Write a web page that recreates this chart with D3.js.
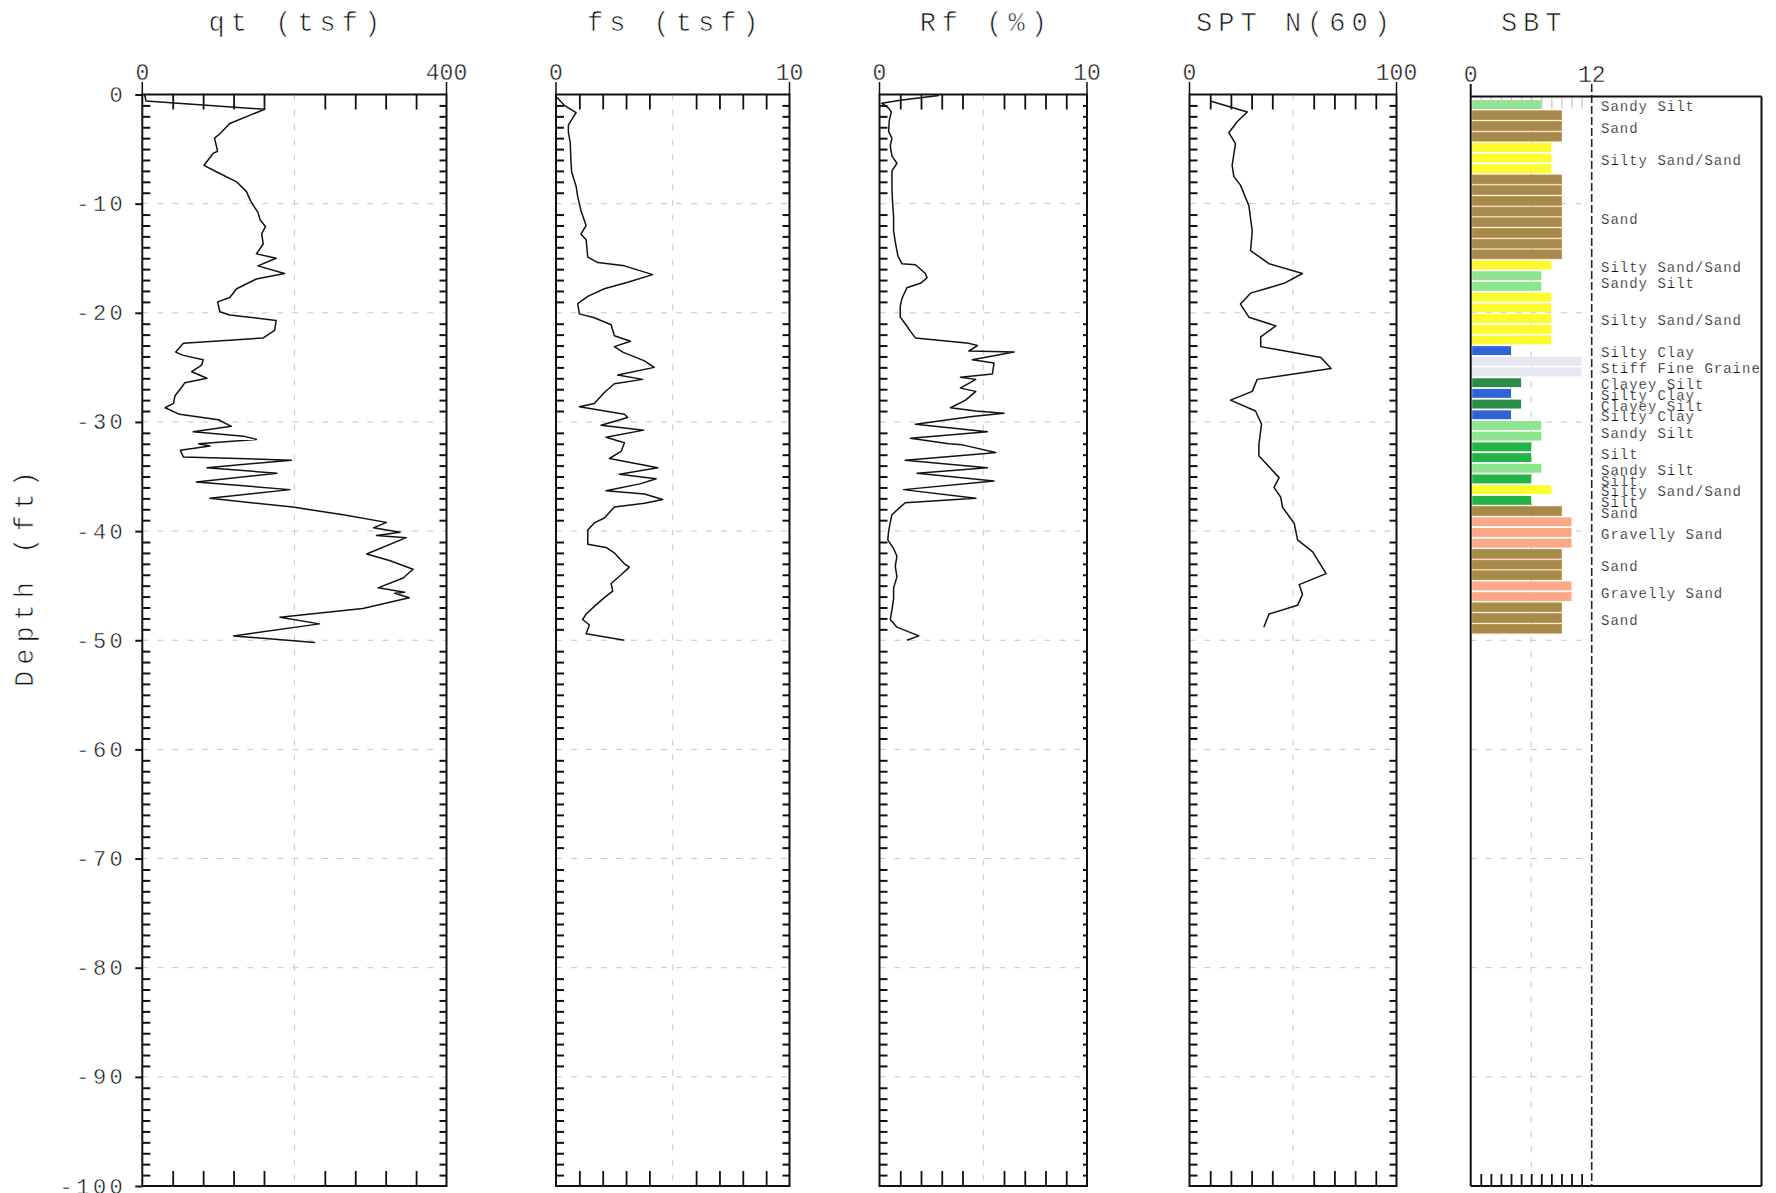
<!DOCTYPE html>
<html><head><meta charset="utf-8">
<script src="https://cdn.jsdelivr.net/npm/d3@7"></script>
<style>
html,body{margin:0;padding:0;background:#fff;}
svg{display:block;}
text{font-family:"Liberation Mono","DejaVu Sans Mono",monospace;fill:#111;stroke:#fff;stroke-width:0.45px;paint-order:normal;}
text.big{stroke-width:0.7px;}
</style></head><body>
<svg id="chart" width="1776" height="1193"></svg>
<script>
// ---------------- DATA ----------------
const depthTicks = [0,10,20,30,40,50,60,70,80,90,100];
const depthTickLabels = ["0","-10","-20","-30","-40","-50","-60","-70","-80","-90","-100"];
const depthAxisTitle = "Depth (ft)";

const qtTitle = "qt (tsf)";
const qtEndLabels = ["0","400"];
const qtTicks = [40,80,120,160,240,280,320,360];
const qtDepth = [0,0.6,1.35,2.66,3.6,4.0,4.6,5.2,5.4,6.5,7.1,8.0,8.9,9.7,10.15,10.8,11.5,12.1,12.75,13.7,14.6,15.0,15.7,16.4,16.9,17.8,18.6,19.0,19.9,20.2,20.7,21.6,22.3,22.8,23.6,23.9,24.3,24.8,25.4,26.0,26.4,26.8,27.6,28.3,28.7,29.3,29.8,30.4,30.9,31.3,31.6,32.0,32.2,32.6,33.2,33.5,34.2,34.7,35.5,36.2,37.0,37.8,38.5,39.2,39.7,40.1,40.4,40.6,42.1,42.7,43.5,44.3,45.2,45.6,45.7,46.1,47.1,47.9,48.5,49.6,50.2];
const qtValue = [3,5,161,115,102,95,97,99,93,81,98,124,137,142,146,152,155,162,157,159,150,176,152,187,150,124,115,99,102,115,176,174,159,54,44,54,80,78,65,85,56,52,43,41,30,49,100,117,67,133,150,74,89,50,54,196,85,177,71,194,89,198,264,321,304,339,308,347,295,325,356,343,310,345,332,351,290,181,233,120,227];

const fsTitle = "fs (tsf)";
const fsEndLabels = ["0","10"];
const fsTicks = [1,2,3,4,6,7,8,9];
const fsDepth = [0.26,1.0,1.67,2.16,2.8,3.46,4.4,6.1,7.1,8.4,9.35,10.65,12.0,12.8,13.3,14.9,15.4,15.7,16.5,17.2,17.8,18.5,19.15,20.1,20.45,21.1,22.1,22.6,23.1,23.6,24.4,25.0,25.7,26.1,26.5,27.3,28.3,28.6,29.3,29.6,30.3,30.75,31.4,31.9,32.7,33.35,34.2,34.8,35.2,35.65,36.3,36.6,37.1,37.45,37.8,38.8,39.25,39.9,41.2,41.5,42.0,43.0,43.3,44.0,44.8,45.5,46.1,46.9,47.6,48.1,48.6,49.4,50.0];
const fsValue = [0.04,0.36,0.86,0.71,0.53,0.53,0.61,0.64,0.67,0.86,0.93,1.07,1.29,1.07,1.29,1.36,1.79,2.93,4.14,3.07,2.07,1.36,0.93,1.0,1.64,2.36,2.5,3.19,2.5,2.86,3.79,4.21,2.64,3.71,2.5,2.07,1.64,1.0,2.93,3.07,1.93,3.76,2.14,2.93,2.79,2.29,4.36,2.71,4.29,3.64,2.14,3.79,4.57,3.79,2.5,2.07,1.64,1.36,1.36,2.14,2.5,2.93,3.14,2.79,2.36,2.43,2.07,1.64,1.29,1.14,1.43,1.29,2.93];

const rfTitle = "Rf (%)";
const rfEndLabels = ["0","10"];
const rfTicks = [1,2,3,4,6,7,8,9];
const rfDepth = [0.1,0.5,0.8,1.25,1.6,2.4,3.4,4.0,4.7,5.65,6.3,7.0,8.6,9.9,11.2,12.5,13.5,14.8,15.5,15.6,16.4,16.8,17.3,17.7,18.7,19.4,20.4,21.0,21.7,22.3,22.8,23.0,23.5,23.6,24.3,24.6,25.6,25.9,26.1,26.9,27.2,28.0,28.7,29.0,29.2,29.5,30.2,30.9,31.5,32.0,32.1,32.8,32.9,33.5,34.2,34.7,35.4,36.2,37.0,37.4,37.8,38.5,39.2,40.0,40.8,41.6,42.3,43.2,44.2,45.2,46.2,47.2,48.1,48.8,49.6,50.0];
const rfValue = [2.86,1.08,0.11,0.44,0.57,0.47,0.44,0.6,0.52,0.6,0.84,0.6,0.6,0.63,0.68,0.68,0.76,0.89,1.08,1.73,2.21,2.29,1.97,1.32,1.08,1.0,1.0,1.24,1.49,1.73,4.31,4.72,4.31,6.49,4.47,5.52,5.44,3.9,4.64,3.9,4.64,4.15,3.42,4.64,6.0,4.47,1.73,5.2,1.49,3.34,3.99,5.6,5.12,1.24,5.2,1.81,5.52,1.16,4.64,1.24,1.0,0.6,0.52,0.44,0.4,0.68,0.84,0.76,0.84,0.68,0.68,0.6,0.52,0.84,1.89,1.32];

const sptTitle = "SPT N(60)";
const sptEndLabels = ["0","100"];
const sptTicks = [10,20,30,40,60,70,80,90];
const sptDepth = [0.6,1.6,2.5,3.5,4.5,6.5,7.5,8.3,10.2,12.5,14.3,15.5,16.4,17.3,18.2,19.2,20.4,21.2,22.2,23.1,24.1,25.1,26.1,27.2,28.0,29.0,30.2,32.1,33.1,35.1,36.0,36.9,37.8,39.3,40.8,41.9,43.9,44.9,45.8,46.8,47.6,48.8];
const sptValue = [10,27.9,23,19,22.2,20.6,21.4,24.6,28.7,30.3,29.5,38.4,54.6,45.7,29.5,24.6,28.7,41.7,34.4,34.4,63.5,68.4,32.7,30.3,19.8,31.9,34.8,33.5,33.5,43.3,40.8,44.1,44.9,50.6,52.2,59.5,66,53,54.6,52.2,38.4,35.9];

const sbtTitle = "SBT";
const sbtEndLabels = ["0","12"];
const sbtTicks = [1,2,3,4,5,6,7,8,9,10,11];
// top depth (ft) of each 0.3 m SBT interval
const sbtTop = [0.46,1.44,2.42,3.40,4.38,5.36,6.34,7.32,8.30,9.28,10.26,11.24,12.22,13.20,14.18,15.16,16.14,17.12,18.10,19.08,20.06,21.04,22.02,23.00,23.98,24.96,25.94,26.92,27.90,28.88,29.86,30.84,31.82,32.80,33.78,34.76,35.74,36.72,37.70,38.68,39.66,40.64,41.62,42.60,43.58,44.56,45.54,46.52,47.50,48.48];
const sbtThickness = 0.98;
const sbtClass = ["Sandy Silt","Sand","Sand","Sand","Silty Sand/Sand","Silty Sand/Sand","Silty Sand/Sand",
 "Sand","Sand","Sand","Sand","Sand","Sand","Sand","Sand","Silty Sand/Sand","Sandy Silt","Sandy Silt",
 "Silty Sand/Sand","Silty Sand/Sand","Silty Sand/Sand","Silty Sand/Sand","Silty Sand/Sand","Silty Clay",
 "Stiff Fine Grained","Stiff Fine Grained","Clayey Silt","Silty Clay","Clayey Silt","Silty Clay",
 "Sandy Silt","Sandy Silt","Silt","Silt","Sandy Silt","Silt","Silty Sand/Sand","Silt","Sand",
 "Gravelly Sand","Gravelly Sand","Gravelly Sand","Sand","Sand","Sand","Gravelly Sand","Gravelly Sand",
 "Sand","Sand","Sand"];
const sbtZoneNames = ["Silty Clay","Clayey Silt","Silt","Sandy Silt","Silty Sand/Sand","Sand","Gravelly Sand","Stiff Fine Grained"];
const sbtZoneNumbers = [4,5,6,7,8,9,10,11];
const sbtZoneColors = ["#2f63d6","#2e8c4a","#22b447","#8de68d","#fbfb2e","#a48a4b","#fca886","#e7e7ef"];

// ---------------- LAYOUT ----------------
const svg = d3.select("#chart");
const TOP = 94.5, BOT = 1186;
const y = d3.scaleLinear().domain([0,100]).range([TOP,BOT]);
const minorDepths = d3.range(1,100).filter(d => d % 10 !== 0);
const gridDepths = depthTicks.slice(1,-1);
const GRID = "#c6c6c6";

const panels = [
  {title:qtTitle, ends:qtEndLabels, ticks:qtTicks, depth:qtDepth, value:qtValue, x0:142.3, x1:446.5, domain:[0,400], rTick:7, labels:true},
  {title:fsTitle, ends:fsEndLabels, ticks:fsTicks, depth:fsDepth, value:fsValue, x0:556, x1:789.5, domain:[0,10], rTick:7},
  {title:rfTitle, ends:rfEndLabels, ticks:rfTicks, depth:rfDepth, value:rfValue, x0:879.5, x1:1087, domain:[0,10], rTick:4},
  {title:sptTitle, ends:sptEndLabels, ticks:sptTicks, depth:sptDepth, value:sptValue, x0:1189.5, x1:1396.5, domain:[0,100], rTick:7}
];

function styleAxis(sel, color, w){
  sel.select(".domain").remove();
  sel.selectAll(".tick line").attr("stroke", color).attr("stroke-width", w);
  sel.selectAll(".tick text").remove();
}

panels.forEach(p => {
  const g = svg.append("g");
  const x = d3.scaleLinear().domain(p.domain).range([p.x0, p.x1]);
  const mid = (p.domain[0] + p.domain[1]) / 2;

  // grid
  g.selectAll(".hg").data(gridDepths).join("line")
    .attr("x1", p.x0).attr("x2", p.x1).attr("y1", d => y(d)).attr("y2", d => y(d))
    .attr("stroke", GRID).attr("stroke-width", 1).attr("stroke-dasharray", "6,9");
  g.append("line").attr("x1", x(mid)).attr("x2", x(mid)).attr("y1", TOP).attr("y2", BOT)
    .attr("stroke", GRID).attr("stroke-width", 1).attr("stroke-dasharray", "6,9");

  // inner depth ticks left and right
  g.append("g").attr("transform", `translate(${p.x0},0)`)
    .call(d3.axisRight(y).tickValues(minorDepths).tickSize(8).tickSizeOuter(0))
    .call(s => styleAxis(s, "#111", 2));
  g.append("g").attr("transform", `translate(${p.x1},0)`)
    .call(d3.axisLeft(y).tickValues(minorDepths).tickSize(p.rTick).tickSizeOuter(0))
    .call(s => styleAxis(s, "#111", 2));

  // top and bottom value ticks
  g.append("g").attr("transform", `translate(0,${TOP})`)
    .call(d3.axisBottom(x).tickValues(p.ticks).tickSize(15).tickSizeOuter(0))
    .call(s => styleAxis(s, "#111", 1.8));
  g.append("g").attr("transform", `translate(0,${BOT})`)
    .call(d3.axisTop(x).tickValues(p.ticks).tickSize(15).tickSizeOuter(0))
    .call(s => styleAxis(s, "#111", 1.8));

  // depth labels
  if (p.labels) {
    const ax = g.append("g").attr("transform", `translate(${p.x0},0)`)
      .call(d3.axisLeft(y).tickValues(depthTicks).tickSize(7).tickPadding(9)
        .tickFormat((d,i) => depthTickLabels[i]));
    ax.select(".domain").remove();
    ax.selectAll(".tick line").attr("stroke","#111").attr("stroke-width",2);
    ax.selectAll(".tick text").attr("font-size", 22).attr("letter-spacing", 3.5)
      .attr("fill", "#111").style("font-family", '"Liberation Mono","DejaVu Sans Mono",monospace');
  }

  // frame
  g.append("rect").attr("x", p.x0).attr("y", TOP).attr("width", p.x1 - p.x0).attr("height", BOT - TOP)
    .attr("fill", "none").attr("stroke", "#111").attr("stroke-width", 2);
  [p.x0, p.x1].forEach(xx => g.append("line").attr("x1", xx).attr("x2", xx).attr("y1", 82).attr("y2", TOP)
    .attr("stroke", "#111").attr("stroke-width", 1.5));

  // end labels
  g.selectAll(".el").data(p.ends).join("text")
    .attr("x", (d,i) => i === 0 ? x(p.domain[0]) : x(p.domain[1]))
    .attr("y", 80).attr("text-anchor", "middle").attr("font-size", 23).attr("letter-spacing", 0)
    .text(d => d);

  // title
  g.append("text").attr("class","big").attr("x", (p.x0 + p.x1) / 2 + 3).attr("y", 31).attr("text-anchor", "middle")
    .attr("font-size", 27).attr("letter-spacing", 6).text(p.title);

  // data line
  g.append("path").datum(d3.zip(p.depth, p.value))
    .attr("d", d3.line().x(d => x(d[1])).y(d => y(d[0])))
    .attr("fill", "none").attr("stroke", "#111").attr("stroke-width", 1.5).attr("stroke-linejoin", "round");
});

// depth axis title
svg.append("text").attr("class","big").attr("transform", "translate(33,576) rotate(-90)").attr("text-anchor", "middle")
  .attr("font-size", 27).attr("letter-spacing", 6).text(depthAxisTitle);

// ---------------- SBT PANEL ----------------
const sx = d3.scaleLinear().domain([0,12]).range([1470.7,1591.7]);
const SBT_TOP = 96.5, SBT_RIGHT = 1761.5;
const zoneNum = d3.scaleOrdinal().domain(sbtZoneNames).range(sbtZoneNumbers);
const zoneColor = d3.scaleOrdinal().domain(sbtZoneNames).range(sbtZoneColors);
const sg = svg.append("g");

sg.append("defs").append("clipPath").attr("id","sbtclip").append("rect")
  .attr("x", sx(0)).attr("y", SBT_TOP).attr("width", SBT_RIGHT - sx(0) - 1).attr("height", BOT - SBT_TOP);

// grid
sg.selectAll(".hg").data(gridDepths).join("line")
  .attr("x1", sx(0)).attr("x2", sx(12)).attr("y1", d => y(d)).attr("y2", d => y(d))
  .attr("stroke", GRID).attr("stroke-dasharray", "6,9");
sg.append("line").attr("x1", sx(6)).attr("x2", sx(6)).attr("y1", SBT_TOP).attr("y2", BOT)
  .attr("stroke", GRID).attr("stroke-dasharray", "6,9");

// bars
const bars = sbtTop.map((t,i) => ({top:t, cls:sbtClass[i]}));
sg.selectAll(".bar").data(bars).join("rect")
  .attr("x", sx(0) + 1.5)
  .attr("y", d => y(d.top) + 0.6)
  .attr("width", d => sx(zoneNum(d.cls)) - sx(0) - 1.5)
  .attr("height", d => y(d.top + sbtThickness) - y(d.top) - 1.8)
  .attr("fill", d => zoneColor(d.cls))
  .attr("stroke", d => d.cls === "Sand" ? "#c88a40" : "none")
  .attr("stroke-width", 0.8);

// top light ticks (over bars) and bottom ticks
sg.append("g").attr("transform", `translate(0,${SBT_TOP})`)
  .call(d3.axisBottom(sx).tickValues(sbtTicks).tickSize(12).tickSizeOuter(0))
  .call(s => styleAxis(s, "#c4c4c4", 1.2));
sg.append("g").attr("transform", `translate(0,${BOT})`)
  .call(d3.axisTop(sx).tickValues(sbtTicks).tickSize(12).tickSizeOuter(0))
  .call(s => styleAxis(s, "#111", 1.8));

// frame
sg.append("line").attr("x1", sx(0)).attr("x2", sx(0)).attr("y1", 84).attr("y2", BOT).attr("stroke", "#111").attr("stroke-width", 2);
sg.append("line").attr("x1", sx(12)).attr("x2", sx(12)).attr("y1", 84).attr("y2", BOT)
  .attr("stroke", "#222").attr("stroke-width", 1.6).attr("stroke-dasharray", "8,3");
sg.append("line").attr("x1", sx(0)).attr("x2", SBT_RIGHT).attr("y1", SBT_TOP).attr("y2", SBT_TOP).attr("stroke", "#111").attr("stroke-width", 2);
sg.append("line").attr("x1", sx(0)).attr("x2", SBT_RIGHT).attr("y1", BOT).attr("y2", BOT).attr("stroke", "#111").attr("stroke-width", 2);
sg.append("line").attr("x1", SBT_RIGHT).attr("x2", SBT_RIGHT).attr("y1", SBT_TOP).attr("y2", BOT).attr("stroke", "#111").attr("stroke-width", 2);

// end labels and title
sg.selectAll(".el").data(sbtEndLabels).join("text")
  .attr("x", (d,i) => i === 0 ? sx(0) : sx(12)).attr("y", 82)
  .attr("text-anchor", "middle").attr("font-size", 23).attr("letter-spacing", 0).text(d => d);
sg.append("text").attr("class","big").attr("x", sx(6) + 3).attr("y", 31).attr("text-anchor", "middle")
  .attr("font-size", 27).attr("letter-spacing", 6).text(sbtTitle);

// zone labels: one per run of same class
const runs = [];
bars.forEach((b,i) => {
  if (i > 0 && runs[runs.length-1].cls === b.cls) runs[runs.length-1].end = b.top + sbtThickness;
  else runs.push({cls:b.cls, start:b.top, end:b.top + sbtThickness});
});
sg.append("g").attr("clip-path", "url(#sbtclip)")
  .selectAll("text").data(runs).join("text")
  .attr("x", 1601).attr("y", d => y((d.start + d.end) / 2) + 1.5).attr("dy", "0.35em")
  .attr("font-size", 14).attr("letter-spacing", 1).style("stroke-width", "0.25px").text(d => d.cls);
</script>
</body></html>
